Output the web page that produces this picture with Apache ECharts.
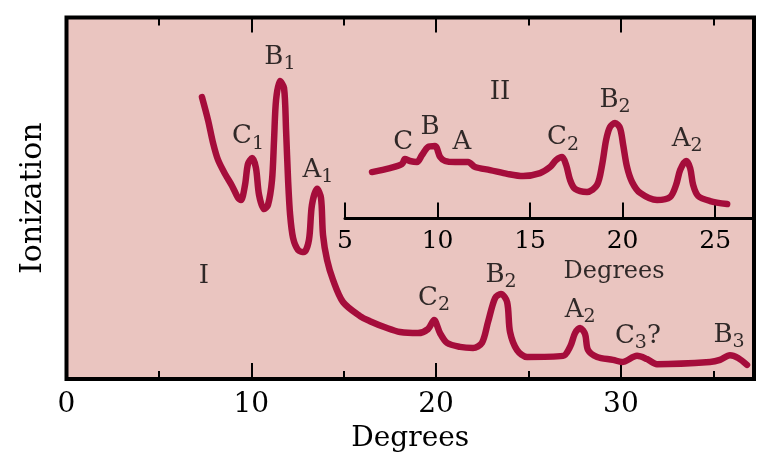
<!DOCTYPE html>
<html>
<head>
<meta charset="utf-8">
<script src="https://cdn.jsdelivr.net/npm/echarts@6/dist/echarts.min.js"></script>
<style>html,body{margin:0;padding:0;background:#fff}#c{width:780px;height:468px}</style>
</head>
<body>
<div id="c"></div>
<script>
// ---- Data ----
// Main curve I: degrees and ionization (arbitrary units, 0-100)
const mainDeg = [7.33,7.66,7.93,8.20,8.58,8.96,9.28,9.44,9.66,9.82,10.04,10.25,10.42,10.69,10.90,11.12,11.23,11.34,11.55,11.77,11.88,11.99,12.10,12.26,12.53,12.85,13.12,13.28,13.56,13.77,13.88,14.10,14.42,14.96,15.88,16.42,17.34,18.05,19.02,19.56,19.89,20.21,20.59,21.29,22.00,22.48,22.81,23.19,23.51,23.84,24.00,24.38,24.92,26.87,27.25,27.52,27.79,28.06,28.22,28.71,29.57,30.06,30.87,31.41,31.95,34.82,35.36,35.90,36.34,36.82];
const mainVal = [78.0,71.6,65.3,60.6,56.7,53.4,50.1,49.5,53.7,59.5,61.1,58.4,50.9,47.0,48.1,55.0,66.1,77.2,82.4,80.5,68.9,55.0,45.4,39.0,35.7,35.1,38.5,48.1,52.6,50.1,39.8,32.9,27.4,21.3,17.4,16.0,14.1,13.0,12.7,13.8,16.3,12.7,10.0,8.9,8.6,10.0,15.8,22.4,23.5,21.3,13.0,8.0,6.1,6.4,8.9,12.7,14.1,12.4,8.0,6.1,5.3,4.7,6.4,5.5,4.1,4.7,5.3,6.6,5.8,3.9];
// Inset curve II
const insetDeg = [6.46,7.43,8.08,8.24,8.51,8.89,9.16,9.49,9.86,10.14,10.41,10.95,11.65,12.03,12.84,13.81,14.62,15.54,16.08,16.41,16.73,16.95,17.16,17.43,18.08,18.62,18.89,19.11,19.32,19.59,19.86,20.03,20.24,20.51,20.95,21.86,22.57,22.89,23.11,23.43,23.65,23.81,24.08,24.73,25.65];
const insetVal = [23.1,25.1,27.1,29.6,28.6,28.1,31.6,35.6,36.1,30.6,28.6,28.1,28.1,25.6,24.1,22.1,21.1,22.6,25.6,29.1,30.6,26.6,19.2,14.7,13.2,16.7,26.6,39.1,45.5,47.5,45.0,36.6,25.6,18.2,12.7,9.2,10.7,16.7,24.1,28.6,25.1,16.7,11.2,8.7,7.2];
// Axis ticks
const mainMajorTicks = [0,10,20,30];
const mainMinorTicks = [5,15,25,35];
const insetTicks = [5,10,15,20,25];
// Annotations: [letter, subscript, suffix, deg, value]
const mainNotes = [
  ['B','1','',11.55,89.1],
  ['C','1','',9.82,67.2],
  ['A','1','',13.61,57.8],
  ['I','','',7.44,28.5],
  ['C','2','',19.89,22.4],
  ['B','2','',23.51,28.8],
  ['A','2','',27.79,19.1],
  ['C','3','?',30.92,11.9],
  ['B','3','',35.85,12.2]
];
const insetNotes = [
  ['II','','',13.38,62.9],
  ['C','','',8.14,38.1],
  ['B','','',9.59,45.5],
  ['A','','',11.32,38.1],
  ['C','2','',16.78,40.5],
  ['B','2','',19.59,59.0],
  ['A','2','',23.49,39.6]
];
const insetAxisName = ['Degrees', 19.54, -26.6];

// ---- Chart ----
const FONT = 'DejaVu Serif';
const LINE = '#a50d3b';
const chart = echarts.init(document.getElementById('c'), null, {renderer:'canvas'});

function zip(xs, ys){ return xs.map((x,i)=>[x, ys[i]]); }
function noteData(notes){
  return notes.map(n=>({value:[n[3],n[4]], name: '{m|'+n[0]+'}' + (n[1]?'{s|'+n[1]+'}':'') + (n[2]?'{m|'+n[2]+'}':'')}));
}
const rich = {
  m:{fontFamily:FONT,fontSize:26,lineHeight:34,color:'#000'},
  s:{fontFamily:FONT,fontSize:19,lineHeight:20,verticalAlign:'bottom',color:'#000'},
  d:{fontFamily:FONT,fontSize:24,color:'#000'}
};
const tickStyle = {color:'#000', width:2};
function tickAxis(pos, vals, len, labels){
  return {
    type:'value', gridIndex:0, position:pos, min:0, max:37.2,
    axisLine:{show:false},
    axisTick:{show:true, inside:true, length:len, customValues:vals, lineStyle:tickStyle},
    axisLabel: labels ? {show:true, customValues:vals, fontFamily:FONT, fontSize:28, color:'#000', margin:12} : {show:false},
    splitLine:{show:false}
  };
}
const xMain = tickAxis('bottom', mainMajorTicks, 16, true);
xMain.name = 'Degrees';
xMain.nameLocation = 'middle';
xMain.nameGap = 46;
xMain.nameTextStyle = {fontFamily:FONT, fontSize:28, color:'#000'};

const option = {
  animation:false,
  backgroundColor:'#fff',
  grid:[
    {left:66.5, right:26, top:17.5, bottom:89, show:true, backgroundColor:'#eac5c0', borderColor:'#000', borderWidth:4},
    {left:345, right:26, top:17.5, bottom:249.5, show:false}
  ],
  xAxis:[
    xMain,
    tickAxis('bottom', mainMinorTicks, 8, false),
    tickAxis('top', [10,20,30], 15, false),
    tickAxis('top', mainMinorTicks, 8, false),
    {
      type:'value', gridIndex:1, position:'bottom', min:5, max:27.1,
      axisLine:{show:true, lineStyle:{color:'#000', width:3}},
      axisTick:{show:true, inside:true, length:16, customValues:insetTicks, lineStyle:tickStyle},
      axisLabel:{show:true, customValues:insetTicks, fontFamily:FONT, fontSize:25, color:'#000', margin:10},
      splitLine:{show:false}
    }
  ],
  yAxis:[
    {type:'value', gridIndex:0, min:0, max:100, axisLine:{show:false}, axisTick:{show:false}, axisLabel:{show:false}, splitLine:{show:false},
     name:'Ionization', nameLocation:'middle', nameRotate:90, nameGap:18, nameTextStyle:{fontFamily:FONT, fontSize:30, color:'#000'}},
    {type:'value', gridIndex:1, min:0, max:100, axisLine:{show:false}, axisTick:{show:false}, axisLabel:{show:false}, splitLine:{show:false}}
  ],
  series:[
    {type:'line', xAxisIndex:0, yAxisIndex:0, data:zip(mainDeg, mainVal), smooth:0.3, showSymbol:false,
     lineStyle:{color:LINE, width:6.5, cap:'round', join:'round'}, z:3},
    {type:'line', xAxisIndex:4, yAxisIndex:1, data:zip(insetDeg, insetVal), smooth:0.3, showSymbol:false,
     lineStyle:{color:LINE, width:6.5, cap:'round', join:'round'}, z:3},
    {type:'scatter', xAxisIndex:0, yAxisIndex:0, symbolSize:1, itemStyle:{color:'rgba(0,0,0,0)'}, clip:false,
     data:noteData(mainNotes), label:{show:true, position:'inside', formatter:p=>p.name, rich:rich}, z:4},
    {type:'scatter', xAxisIndex:4, yAxisIndex:1, symbolSize:1, itemStyle:{color:'rgba(0,0,0,0)'}, clip:false,
     data:noteData(insetNotes).concat([{value:[insetAxisName[1], insetAxisName[2]], name:'{d|'+insetAxisName[0]+'}'}]),
     label:{show:true, position:'inside', formatter:p=>p.name, rich:rich}, z:4}
  ]
};
chart.setOption(option);
</script>
</body>
</html>
